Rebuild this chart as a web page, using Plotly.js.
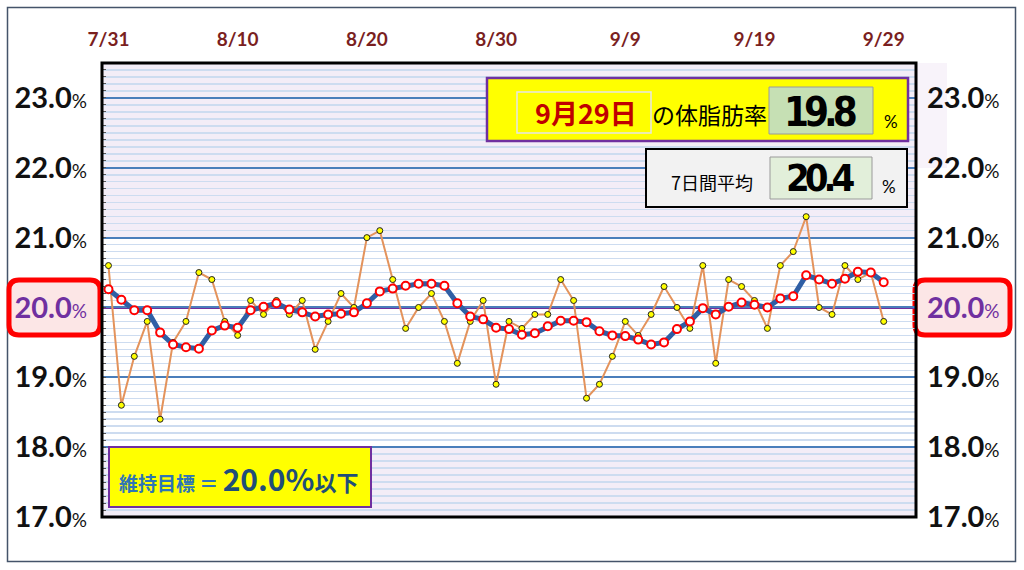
<!DOCTYPE html>
<html><head><meta charset="utf-8">
<script src="https://cdn.plot.ly/plotly-3.0.1.min.js"></script>
<style>html,body{margin:0;padding:0;background:#fff;overflow:hidden}#chart{width:1024px;height:570px}</style>
</head><body><div id="chart"></div>
<script>
// ---- data ----
const startDate = [2020, 6, 31]; // 7/31
const bodyFat = [20.6,18.6,19.3,19.8,18.4,19.5,19.8,20.5,20.4,19.8,
                 19.6,20.1,19.9,20.1,19.9,20.1,19.4,19.8,20.2,20.0,
                 21.0,21.1,20.4,19.7,20.0,20.2,19.8,19.2,19.8,20.1,
                 18.9,19.8,19.7,19.9,19.9,20.4,20.1,18.7,18.9,19.3,
                 19.8,19.6,19.9,20.3,20.0,19.7,20.6,19.2,20.4,20.3,
                 20.1,19.7,20.6,20.8,21.3,20.0,19.9,20.6,20.4,20.5,19.8];
const avg7 = [20.26,20.11,19.96,19.96,19.64,19.47,19.43,19.41,19.67,19.74,
              19.71,19.96,20.01,20.06,19.97,19.93,19.87,19.90,19.91,19.93,
              20.06,20.23,20.27,20.31,20.34,20.34,20.31,20.06,19.87,19.83,
              19.71,19.69,19.61,19.63,19.73,19.81,19.81,19.79,19.66,19.60,
              19.59,19.54,19.47,19.50,19.69,19.80,19.99,19.90,20.01,20.07,
              20.04,20.00,20.13,20.16,20.46,20.40,20.34,20.41,20.51,20.50,20.36];
const xTickDays = [0,10,20,30,40,50,60];
const xTickLabels = ['7/31','8/10','8/20','8/30','9/9','9/19','9/29'];
const yTickValues = [17,18,19,20,21,22,23];
const yTickLabels = ['17.0','18.0','19.0','20.0','21.0','22.0','23.0'];
const targetValue = 20.0;
const latestDateText = '9月29日';
const latestText = '19.8';
const avgText = '20.4';
const goalValueText = '20.0%';

// ---- helpers ----
function dayStr(i){const d=new Date(Date.UTC(startDate[0],startDate[1],startDate[2]+i));return d.toISOString().slice(0,10);}
const xDates = bodyFat.map((v,i)=>dayStr(i));
const L=102,R=916,T=63,B=517,W=R-L,H=B-T;
const px=x=>(x-L)/W, py=y=>(B-y)/H;
function rrect(x0,y0,x1,y1,r){
  const a=px(x0),b=px(x1),c=py(y0),d=py(y1),rx=r/W,ry=r/H;
  return `M${a+rx},${c} L${b-rx},${c} Q${b},${c} ${b},${c-ry} L${b},${d+ry} Q${b},${d} ${b-rx},${d} L${a+rx},${d} Q${a},${d} ${a},${d+ry} L${a},${c-ry} Q${a},${c} ${a+rx},${c} Z`;
}
function rect(x0,y0,x1,y1,fill,line,lw,layer){
  return {type:'rect',xref:'paper',yref:'paper',x0:px(x0),x1:px(x1),y0:py(y1),y1:py(y0),
    fillcolor:fill,line:{color:line,width:lw},layer:layer||'above'};
}
function note(x,y,text,font){
  return {xref:'paper',yref:'paper',x:px(x),y:py(y),xanchor:'center',yanchor:'middle',text:text,showarrow:false,font:font};
}
const yTickText = yTickLabels.map((t,i)=> yTickValues[i]===targetValue
  ? `<b><span style="color:#7030a0">${t}</span></b><span style="font-size:19px;color:#7030a0">%</span>`
  : `<b>${t}</b><span style="font-size:19px">%</span>`);

const traces = [
  {x:xDates,y:bodyFat,type:'scatter',mode:'lines+markers',
   line:{color:'#e3935c',width:2},
   marker:{color:'#ffff00',size:6,line:{color:'#222',width:1}},hoverinfo:'x+y'},
  {x:xDates,y:avg7,type:'scatter',mode:'lines+markers',
   line:{color:'#2f5fa5',width:5},
   marker:{color:'#ffffff',size:8,line:{color:'#ff0000',width:2}},hoverinfo:'x+y'},
  {x:[xDates[0]],y:[targetValue],yaxis:'y2',type:'scatter',mode:'markers',marker:{opacity:0},hoverinfo:'skip'}
];

const cjk = '"Noto Sans CJK JP", sans-serif';
const narrow = '"DejaVu Sans Condensed","Liberation Sans Narrow",sans-serif';
const layout = {
  width:1024,height:570,margin:{l:L,r:1024-R,t:T,b:570-B},
  paper_bgcolor:'#ffffff',plot_bgcolor:'#ffffff',showlegend:false,
  xaxis:{type:'date',side:'top',range:['2020-07-30 12:00','2020-10-01 12:00'],
    tickvals:xTickDays.map(dayStr),ticktext:xTickLabels,
    tickfont:{family:'Lato',size:19,color:'#7a1f1f',weight:'bold'},
    showgrid:false,zeroline:false,ticks:'',ticklabelstandoff:12,fixedrange:true},
  yaxis:{range:[17,23.5],tickvals:yTickValues,ticktext:yTickText,
    tickfont:{family:'Lato',size:29,color:'#111111'},
    showgrid:true,gridcolor:'#4a7ebb',gridwidth:2,zeroline:false,ticks:'',
    ticklabelstandoff:14,fixedrange:true,
    minor:{dtick:0.1,tick0:17,showgrid:true,gridcolor:'#cddcf0',gridwidth:1.5,ticks:'inside',ticklen:4,tickcolor:'#555'}},
  yaxis2:{overlaying:'y',side:'right',range:[17,23.5],tickvals:yTickValues,ticktext:yTickText,
    tickfont:{family:'Lato',size:29,color:'#111111'},showgrid:false,zeroline:false,ticks:'',
    ticklabelstandoff:10,fixedrange:true},
  shapes:[
    rect(7.5,7.5,1015.5,561.5,'rgba(0,0,0,0)','#44546a',1.5,'below'),
    {type:'rect',xref:'paper',yref:'y',x0:0,x1:1,y0:21,y1:23.5,fillcolor:'#f3edf7',line:{width:0},layer:'below'},
    {type:'rect',xref:'paper',yref:'y',x0:0,x1:1,y0:17,y1:18,fillcolor:'#f3edf7',line:{width:0},layer:'below'},
    rect(917,63,947,168,'#f8f3fa','rgba(0,0,0,0)',0,'below'),
    {type:'path',xref:'paper',yref:'paper',path:rrect(9,280,100,335,10),fillcolor:'#fce6e6',line:{color:'#ff0000',width:5},layer:'below'},
    {type:'path',xref:'paper',yref:'paper',path:rrect(915,280,1010,335,10),fillcolor:'#fce6e6',line:{color:'#ff0000',width:5},layer:'below'},
    {type:'line',xref:'paper',yref:'y',x0:0,x1:1,y0:targetValue,y1:targetValue,line:{color:'#7030a0',width:3},layer:'between'},
    {type:'rect',xref:'paper',yref:'paper',x0:0,x1:1,y0:0,y1:1,line:{color:'#000',width:3},layer:'above'},
    rect(487,78,908,141,'#ffff00','#7030a0',2.5),
    rect(517,92,651,133,'#ffff00','#e6e6e6',1.5),
    rect(769,87,873,134,'#c6e0b4','#9a9a9a',1),
    rect(646,149,907,207,'#f2f2f2','#000000',2),
    rect(770,157,872,199,'#e2efda','#9a9a9a',1),
    rect(109,447,371,507,'#ffff00','#7030a0',2)
  ],
  annotations:[
    note(586,113,'<b>'+latestDateText+'</b>',{family:cjk,size:27,color:'#c00000'}),
    note(709,114,'の体脂肪率',{family:cjk,size:23,color:'#000'}),
    note(820,112,'<span style="letter-spacing:-5px">'+latestText+'</span>',{family:narrow,size:40,color:'#000',weight:'bold'}),
    note(891,121,'%',{family:'Lato',size:17,color:'#000'}),
    note(712,182,'7日間平均',{family:cjk,size:18,color:'#000'}),
    note(820,178,'<span style="letter-spacing:-5px">'+avgText+'</span>',{family:narrow,size:38,color:'#000',weight:'bold'}),
    note(889,186,'%',{family:'Lato',size:17,color:'#000'}),
    note(238,478,'<span style="font-size:19px;color:#2e75b6"><b>維持目標 ＝ </b></span><b>'+goalValueText+'</b><span style="font-size:22px"><b>以下</b></span>',{family:cjk,size:30,color:'#1f4e79'})
  ]
};
Plotly.newPlot('chart',traces,layout,{displayModeBar:false,staticPlot:true});
</script></body></html>
